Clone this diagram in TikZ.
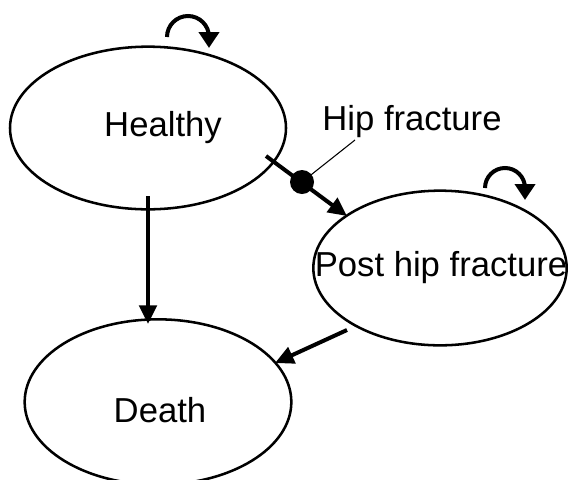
\documentclass[tikz,border=0pt]{standalone}
\usepackage{fontspec}
\setmainfont{Liberation Sans}
\usetikzlibrary{arrows.meta,shapes.geometric}
\begin{document}
\begin{tikzpicture}[x=0.75pt,y=-0.75pt,
  state/.style={draw,line width=1.9pt,ellipse,inner sep=0pt},
  lbl/.style={font=\fontsize{26}{30}\selectfont},
  arr/.style={line width=3pt,-{Triangle[length=14pt,width=13pt]}},
  selfloop/.style={line width=3pt,-{Triangle[length=12pt,width=15pt]}}]
\useasboundingbox (0,0) rectangle (570,479);
\fill[white] (0,0) rectangle (570,479);
\node[state,minimum width=207pt,minimum height=122pt] (h) at (148,128) {};
\node[lbl] (ht) at (163,128) {Healthy};
\node[state,minimum width=200pt,minimum height=124pt] (d) at (158,402) {};
\node[lbl] (dt) at (160,410) {Death};
\node[state,minimum width=190pt,minimum height=116pt] (p) at (440,268) {};
\node[lbl] (pt) at (441,268) {Post hip fracture};
\node[lbl] (hf) at (412,122) {Hip fracture};
\coordinate (a1) at (266,156);
\coordinate (a2) at (347,216);
\node[circle,fill,minimum size=18pt,inner sep=0pt] (dot) at (302,182) {};
\draw[arr] (a1) -- (a2);
\draw[line width=0.8pt] (dot.center) -- (355,140);
\coordinate (b1) at (148,196);
\coordinate (b2) at (148,324);
\draw[arr] (b1) -- (b2);
\coordinate (c1) at (347,330);
\coordinate (c2) at (275,363);
\draw[arr] (c1) -- (c2);
\draw[selfloop] (167,37) arc[start angle=180,end angle=360,radius=21] -- (209,48);
\draw[selfloop] (485,188) arc[start angle=180,end angle=360,radius=20] -- (525,200);
\end{tikzpicture}
\end{document}
